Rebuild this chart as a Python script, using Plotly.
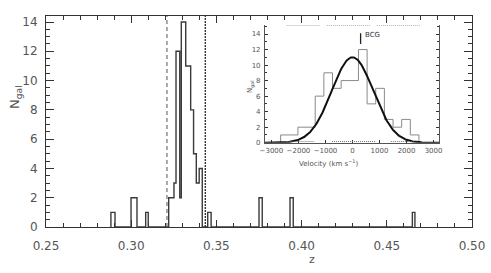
import numpy as np
import plotly.graph_objects as go

# ---------------- data ----------------
# main redshift histogram: bar left edges, right edges, counts
z_left = [0.2881, 0.2999, 0.3085, 0.3220, 0.3251, 0.3263, 0.3285, 0.3294, 0.3320,
          0.3349, 0.3366, 0.3382, 0.3399, 0.3449, 0.3750, 0.3932, 0.4650]
z_right = [0.2905, 0.3034, 0.3100, 0.3251, 0.3263, 0.3285, 0.3294, 0.3320, 0.3349,
           0.3366, 0.3382, 0.3399, 0.3417, 0.3469, 0.3769, 0.3951, 0.4665]
z_counts = [1, 2, 1, 2, 3, 12, 2, 14, 11, 8, 5, 3, 4, 1, 2, 2, 1]

# cluster limits (dashed lines)
z_limits = [0.3210, 0.3435]

# inset velocity histogram
v_edges = [-2660, -2340, -2020, -1700, -1380, -1060, -740, -420, -100,
           220, 540, 860, 1180, 1500, 1820, 2140, 2460]
v_counts = [1, 1, 2, 2, 6, 9, 7, 8, 8, 12, 5, 7, 3, 2, 3, 1]

# gaussian fit parameters
g_amp, g_mean, g_sigma = 11.0, 0.0, 770.0

# BCG velocity
bcg_v = 300

x_ticks = [0.25, 0.30, 0.35, 0.40, 0.45, 0.50]
x_ticktext = ["0.25", "0.30", "0.35", "0.40", "0.45", "0.50"]
y_ticks = [0, 2, 4, 6, 8, 10, 12, 14]
v_ticks = [-3000, -2000, -1000, 0, 1000, 2000, 3000]

# ---------------- helpers ----------------
def step_path(lefts, rights, heights):
    xs, ys = [], []
    n = len(lefts)
    for i in range(n):
        l, r, h = lefts[i], rights[i], heights[i]
        if i == 0 or abs(l - rights[i - 1]) > 1e-9:
            xs.append(l); ys.append(0)
        xs += [l, r]; ys += [h, h]
        if i == n - 1 or abs(lefts[i + 1] - r) > 1e-9:
            xs.append(r); ys.append(0)
    return xs, ys

hx, hy = step_path(z_left, z_right, z_counts)
vx, vy = step_path(v_edges[:-1], v_edges[1:], v_counts)

gx = np.linspace(-3240, 3220, 300)
gy = g_amp * np.exp(-(gx - g_mean) ** 2 / (2 * g_sigma ** 2))

FONT = "DejaVu Sans"
TXT = "#555555"
LINE = "#333333"

fig = go.Figure()
fig.add_trace(go.Scatter(x=hx, y=hy, mode="lines",
                         line=dict(color="#3a3a3a", width=1.4),
                         xaxis="x", yaxis="y", hoverinfo="skip"))
fig.add_trace(go.Scatter(x=vx, y=vy, mode="lines",
                         line=dict(color="#8a8a8a", width=1),
                         xaxis="x2", yaxis="y2", hoverinfo="skip"))
fig.add_trace(go.Scatter(x=gx, y=gy, mode="lines",
                         line=dict(color="#111111", width=2),
                         xaxis="x2", yaxis="y2", hoverinfo="skip"))

shapes = []
# dashed cluster limits
shapes.append(dict(type="line", xref="x", yref="paper", x0=z_limits[0], x1=z_limits[0],
                   y0=0, y1=1, line=dict(color="#555555", width=1, dash="4px,3px")))
shapes.append(dict(type="line", xref="x", yref="paper", x0=z_limits[1], x1=z_limits[1],
                   y0=0, y1=1, line=dict(color="#333333", width=1.4, dash="2px,1px")))
# dotted top of inset frame
for a, b in [(-2440, -1200), (-950, 650), (900, 2500)]:
    shapes.append(dict(type="line", xref="x2", yref="y2", x0=a, x1=b, y0=15.15, y1=15.15,
                       line=dict(color="#777777", width=1, dash="1px,1px")))
# dotted segments just above inset baseline
for a, b in [(-2440, -1400), (-760, 850), (1420, 2250)]:
    shapes.append(dict(type="line", xref="x2", yref="y2", x0=a, x1=b, y0=0.15, y1=0.15,
                       line=dict(color="#777777", width=1, dash="1px,1px")))
# BCG marker
shapes.append(dict(type="line", xref="x2", yref="y2", x0=bcg_v, x1=bcg_v, y0=12.7, y1=14.1,
                   line=dict(color="#222222", width=1.3)))

annotations = [
    dict(text="N<sub>gal</sub>", xref="paper", yref="paper", x=-0.073, y=0.616,
         xanchor="center", yanchor="middle",
         showarrow=False, textangle=-90, font=dict(family=FONT, size=13, color=TXT)),
    dict(text="z", xref="paper", yref="paper", x=0.6244, y=-0.152,
         xanchor="center", yanchor="middle",
         showarrow=False, font=dict(family=FONT, size=11, color=TXT)),
    dict(text="Velocity (km s<sup>\u22121</sup>)", xref="paper", yref="paper",
         x=0.662, y=0.303, xanchor="center", yanchor="middle",
         showarrow=False, font=dict(family=FONT, size=7, color=TXT)),
    dict(text="N<sub>gal</sub>", xref="paper", yref="paper", x=0.479, y=0.6635,
         xanchor="center", yanchor="middle",
         showarrow=False, textangle=-90, font=dict(family=FONT, size=7, color=TXT)),
    dict(text="BCG", xref="x2", yref="y2", x=bcg_v + 90, y=13.9, xanchor="left",
         yanchor="middle",
         showarrow=False, font=dict(family=FONT, size=7, color="#333333")),
]

fig.update_layout(
    width=491, height=273,
    margin=dict(l=46, r=19, t=16, b=46, autoexpand=False),
    paper_bgcolor="white", plot_bgcolor="white",
    showlegend=False,
    shapes=shapes, annotations=annotations,
    xaxis=dict(domain=[0, 1], range=[0.25, 0.50], tickvals=x_ticks, ticktext=x_ticktext,
               ticks="inside", ticklen=7, tickcolor=LINE, showline=True, linecolor=LINE,
               linewidth=1, mirror="ticks", showgrid=False, zeroline=False, automargin=False,
               minor=dict(dtick=0.01, ticks="inside", ticklen=4, tickcolor=LINE, showgrid=False),
               tickfont=dict(family=FONT, size=12, color=TXT), ticklabelstandoff=8),
    yaxis=dict(domain=[0, 1], range=[0, 14.41], tickvals=y_ticks,
               ticks="inside", ticklen=8, tickcolor=LINE, showline=True, linecolor=LINE,
               linewidth=1, mirror="ticks", showgrid=False, zeroline=False, automargin=False,
               minor=dict(dtick=0.5, ticks="inside", ticklen=4, tickcolor=LINE, showgrid=False),
               tickfont=dict(family=FONT, size=12, color=TXT), ticklabelstandoff=5),
    xaxis2=dict(domain=[0.514, 0.9237], anchor="y2", range=[-3240, 3220], tickvals=v_ticks,
                ticks="inside", ticklen=3, tickcolor=LINE, showline=True, linecolor="#555555",
                linewidth=1, mirror=False, showgrid=False, zeroline=False, automargin=False,
                tickfont=dict(family=FONT, size=7, color=TXT), ticklabelstandoff=1),
    yaxis2=dict(domain=[0.3995, 0.957], anchor="x2", range=[0, 15.15], tickvals=y_ticks,
                ticks="inside", ticklen=3, tickcolor=LINE, showline=True, linecolor="#555555",
                linewidth=1, mirror="ticks", showgrid=False, zeroline=False, automargin=False,
                minor=dict(dtick=1, ticks="inside", ticklen=2, tickcolor=LINE, showgrid=False),
                tickfont=dict(family=FONT, size=7, color=TXT), ticklabelstandoff=2),
)

fig.write_html("out.html", config={"displayModeBar": False},
               post_script="document.body.style.margin='0';document.body.style.overflow='hidden';")
